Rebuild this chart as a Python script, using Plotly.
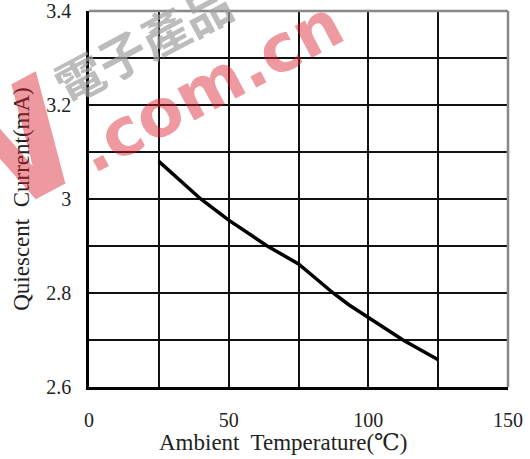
import plotly.graph_objects as go

temperature = [25, 40, 50, 63.8, 75, 87.4, 93, 100, 112.4, 125]
current_ma = [3.08, 3.0, 2.955, 2.9, 2.862, 2.8, 2.775, 2.748, 2.7, 2.658]

x_ticks = [0, 50, 100, 150]
y_ticks = [2.6, 2.8, 3.0, 3.2, 3.4]
y_labels = ["2.6", "2.8", "3", "3.2", "3.4"]

fig = go.Figure()
fig.add_trace(go.Scatter(x=temperature, y=current_ma, mode="lines",
                         line=dict(color="black", width=3.5), showlegend=False))

font_family = "Liberation Serif, Times New Roman, DejaVu Serif, serif"

fig.update_layout(
    width=530, height=459,
    margin=dict(l=88.5, r=21.5, t=11, b=72, autoexpand=False),
    paper_bgcolor="white", plot_bgcolor="white",
    font=dict(family=font_family, color="#222", size=20),
    xaxis=dict(range=[0, 150], tickvals=x_ticks, showgrid=True, gridcolor="#111", gridwidth=1.5,
               minor=dict(dtick=25, tick0=0, showgrid=True, gridcolor="#111", gridwidth=1.5),
               showline=True, linecolor="black", linewidth=2.5, zeroline=False, automargin=False,
               ticks="", ticklabelstandoff=13, tickfont=dict(family=font_family, size=20)),
    yaxis=dict(range=[2.6, 3.4], tickvals=y_ticks, ticktext=y_labels, showgrid=True, gridcolor="#111", gridwidth=1.5,
               minor=dict(dtick=0.1, tick0=2.6, showgrid=True, gridcolor="#111", gridwidth=1.5),
               showline=True, linecolor="black", linewidth=2.5, zeroline=False, automargin=False,
               ticks="", ticklabelstandoff=11, tickfont=dict(family=font_family, size=20),
               title=dict(text="Quiescent&nbsp; Current(mA)", font=dict(family=font_family, size=23), standoff=11)),
    shapes=[
        dict(type="line", xref="paper", yref="paper", x0=0, x1=1, y0=1, y1=1,
             line=dict(color="#888", width=2.5)),
        dict(type="line", xref="paper", yref="paper", x0=1, x1=1, y0=0, y1=1,
             line=dict(color="#888", width=2.5)),
    ],
    annotations=[
        dict(text="Ambient&nbsp; Temperature(℃)", xref="paper", yref="paper", x=0.465, y=-0.147,
             xanchor="center", yanchor="middle", showarrow=False,
             font=dict(family=font_family, size=23, color="#222")),
        dict(text="<b>電子產品</b>", xref="paper", yref="paper", x=0.127, y=0.918,
             xanchor="center", yanchor="middle", showarrow=False, textangle=-28, opacity=0.7,
             font=dict(family="Noto Sans CJK TC", size=48, color="#a0a0a0")),
        dict(text="<b>.com.cn</b>", xref="paper", yref="paper", x=0.289, y=0.80,
             xanchor="center", yanchor="middle", showarrow=False, textangle=-28, opacity=0.45,
             font=dict(family="DejaVu Sans, sans-serif", size=66, color="#d81e2c")),
        dict(text="<b>W</b>", xref="paper", yref="paper", x=-0.23, y=0.60,
             xanchor="center", yanchor="middle", showarrow=False, textangle=-28, opacity=0.45,
             font=dict(family="DejaVu Sans, sans-serif", size=155, color="#d81e2c")),
    ],
)

fig.write_html("out.html", post_script="document.body.style.margin='0px';",
               config={"displayModeBar": False})
